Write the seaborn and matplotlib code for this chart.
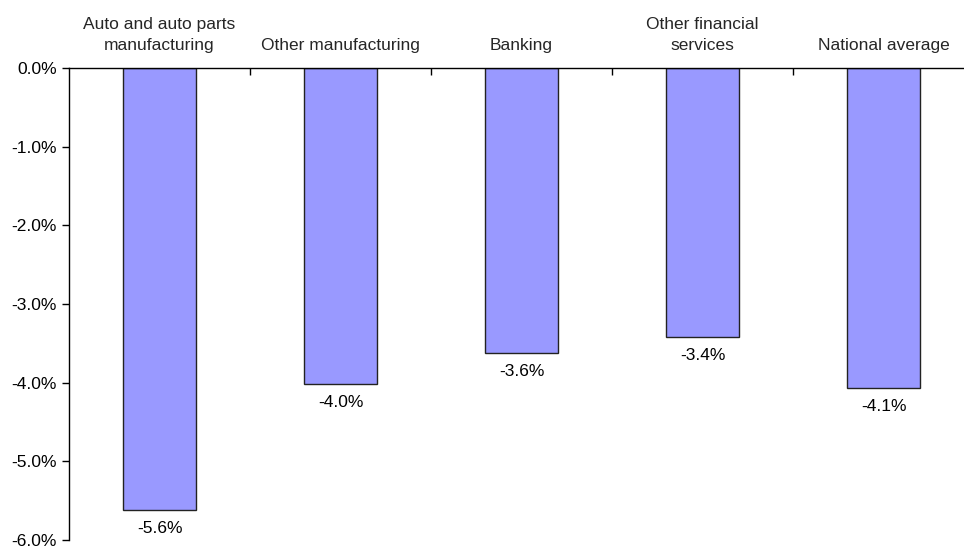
import matplotlib
matplotlib.use("Agg")
import matplotlib.pyplot as plt
import seaborn as sns
import pandas as pd
from matplotlib.ticker import FuncFormatter, FixedLocator

categories = ["Auto and auto parts\nmanufacturing", "Other manufacturing", "Banking",
              "Other financial\nservices", "National average"]
values = [-5.62, -4.02, -3.62, -3.42, -4.07]
value_labels = ["-5.6%", "-4.0%", "-3.6%", "-3.4%", "-4.1%"]
yticks = [0, -1, -2, -3, -4, -5, -6]

sns.set_style("white")
plt.rcParams['font.family'] = ['Liberation Sans', 'DejaVu Sans']

FS = 12.5

df = pd.DataFrame({"cat": categories, "val": values})

fig = plt.figure(figsize=(9.64, 5.48), dpi=100)
ax = fig.add_axes([69/964, 8/548, 905/964, 472/548])

sns.barplot(data=df, x="cat", y="val", color="#9999FF", saturation=1,
            edgecolor="#222222", linewidth=1.0, width=0.4, ax=ax)

ax.set_xlim(-0.5, 4.5)
ax.set_ylim(-6, 0)
ax.set_xlabel("")
ax.set_ylabel("")

for spine in ["bottom", "right"]:
    ax.spines[spine].set_visible(False)
for spine in ["top", "left"]:
    ax.spines[spine].set_visible(True)
    ax.spines[spine].set_color("black")
    ax.spines[spine].set_linewidth(1.0)

ax.set_yticks(yticks)
ax.yaxis.set_major_formatter(FuncFormatter(lambda v, p: f"{v:.1f}%"))
ax.tick_params(axis="y", left=True, direction="out", length=5, width=1,
               labelsize=FS, pad=4, colors="black")

# category labels on top (minor ticks at centers), boundary ticks (major)
ax.xaxis.set_major_locator(FixedLocator([0.5, 1.5, 2.5, 3.5]))
ax.xaxis.set_major_formatter(FuncFormatter(lambda v, p: ""))
ax.xaxis.set_minor_locator(FixedLocator(list(range(len(categories)))))
ax.set_xticklabels(categories, minor=True)
ax.tick_params(axis="x", which="major", top=True, bottom=False, labeltop=False,
               labelbottom=False, direction="in", length=5, width=1, colors="black")
ax.tick_params(axis="x", which="minor", top=False, bottom=False, labeltop=True,
               labelbottom=False, length=0, pad=11, labelsize=FS)
for lbl in ax.get_xticklabels(minor=True):
    lbl.set_horizontalalignment("center")
    lbl.set_multialignment("center")
    lbl.set_linespacing(1.5)

for i, (v, t) in enumerate(zip(values, value_labels)):
    ax.annotate(t, xy=(i, v), xytext=(0, -11), textcoords="offset pixels",
                ha="center", va="top", fontsize=FS, color="black")

fig.savefig("out.png", dpi=100)
